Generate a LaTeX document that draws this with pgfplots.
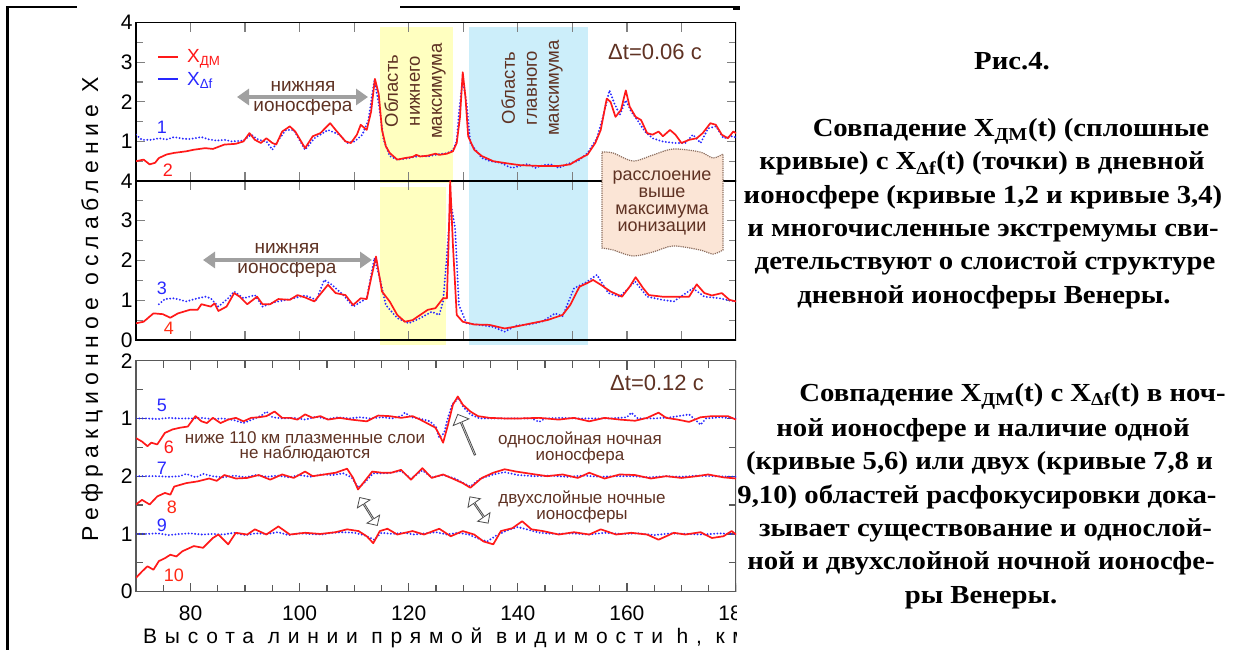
\documentclass[border=0pt]{standalone}
\usepackage{fontspec}
\setmainfont{Liberation Sans}
\newfontfamily\tnr{Liberation Serif}
\newfontfamily\spacedY[LetterSpace=26]{Liberation Sans}
\newfontfamily\spacedX[LetterSpace=37]{Liberation Sans}
\usepackage{pgfplots}
\pgfplotsset{compat=1.18}
\usetikzlibrary{arrows.meta,shapes.arrows}
\definecolor{brn}{RGB}{95,50,35}
\definecolor{myred}{RGB}{255,25,25}
\definecolor{myblue}{RGB}{40,40,255}
\definecolor{yel}{RGB}{255,255,192}
\definecolor{cya}{RGB}{204,238,250}
\definecolor{peach}{RGB}{251,229,214}
\definecolor{boxb}{RGB}{140,110,95}
\definecolor{garr}{RGB}{160,160,160}
\pgfplotsset{
 panel/.style={
  scale only axis, width=600pt, xmin=70, xmax=180, ymin=0, ymax=4,
  anchor=south west, tick align=inside,
  major tick length=9pt, minor tick length=7pt,
  axis line style={line width=1.3pt},
  every tick/.append style={line width=1.2pt},
  every minor tick/.append style={line width=1.2pt},
  ticklabel style={font=\fontsize{21}{21}\selectfont},
  /pgf/number format/assume math mode=true,
 },
 rc/.style={color=myred, line width=1.7pt, line join=round, forget plot},
 bc/.style={color=myblue, line width=2.1pt, dash pattern=on 0pt off 3.3pt, line cap=round, forget plot},
}
\begin{document}
\begin{tikzpicture}[x=1pt,y=1pt]
\useasboundingbox (0,0) rectangle (1243,650);
\fill[white] (0,0) rectangle (1243,650);
\begin{scope}
\clip (0,0) rectangle (736,650);
\fill[yel] (380,467) rectangle (453,623);
\fill[yel] (380,305) rectangle (446,463);
\fill[cya] (469,305) rectangle (588,623);

% ---------- top panel ----------
\begin{axis}[panel, at={(136pt,469pt)}, height=158.3pt,
  xtick={80,90,...,170}, xticklabels={},
  ytick={0,1,2,3,4}, yticklabels={,1,2,3,4}, minor ytick={0.5,1.5,2.5,3.5},
  legend style={draw=none, fill=none, at={(axis cs:73.9,3.38)}, anchor=north west,
    font=\fontsize{19}{19}\selectfont, row sep=4pt, column sep=6pt, inner sep=0pt},
  legend image code/.code={\draw[#1] (0pt,0pt) -- (20pt,0pt);},
  legend cell align=left]
\addlegendimage{color=myred, line width=1.7pt}
\addlegendentry{\textcolor{myred}{X\textsubscript{ДМ}}}
\addlegendimage{color=myblue, line width=1.7pt}
\addlegendentry{\textcolor{myblue}{X\textsubscript{Δf}}}
\addplot[bc] coordinates {(70,1.17) (71.1,1.04) (72.8,1.04) (74.2,1.08) (75.6,1.05) (77.0,1.11) (78.5,1.07) (79.9,1.06) (82.0,1.11) (83.4,1.05) (84.8,1.02) (86.2,1.04) (87.6,1.0) (89.7,1.02) (91.1,1.17) (92.5,1.04) (93.9,1.0) (95.0,0.79) (96.1,1.04) (97.5,1.29) (98.9,1.29) (101.0,0.79) (102.7,1.08) (105.2,1.29) (107.3,1.17) (108.7,0.96) (110.1,1.0) (111.5,1.17) (112.6,1.54) (113.7,2.54) (114.5,1.96) (115.4,1.04) (116.5,0.63) (117.9,0.54) (119.3,0.56) (120.7,0.60) (122.1,0.63) (123.5,0.62) (125.6,0.68) (127.0,0.70) (128.1,0.78) (128.8,1.0) (129.2,1.71) (129.9,2.58) (130.6,1.96) (131.3,0.96) (133.4,0.58) (135.0,0.50) (136.9,0.46) (138.0,0.38) (139.0,0.33) (140.4,0.38) (141.8,0.43) (143.2,0.33) (144.6,0.40) (146.1,0.42) (147.5,0.33) (149.3,0.44) (151.0,0.50) (152.8,0.71) (154.5,1.08) (155.6,1.62) (156.8,2.29) (157.7,1.96) (158.7,1.67) (159.8,2.04) (160.8,1.75) (161.9,1.54) (163.3,1.25) (164.7,1.08) (166.5,1.0) (168.6,0.96) (170.7,0.96) (172.1,1.17) (173.5,0.96) (174.9,1.33) (176.3,1.38) (177.7,1.08) (179.2,1.13) (180,1.10)};
\addplot[rc] coordinates {(70,0.5) (71.4,0.54) (72.5,0.42) (73.5,0.46) (74.2,0.58) (75.6,0.67) (77.0,0.71) (79.2,0.75) (80.6,0.79) (82.7,0.83) (84.1,0.81) (86.2,0.92) (88.3,0.94) (89.7,1.0) (90.8,1.21) (91.8,1.04) (92.9,0.96) (93.9,1.08) (95.0,0.96) (95.7,0.92) (96.8,1.25) (98.2,1.38) (99.2,1.25) (101.0,0.83) (102.4,1.13) (103.8,1.21) (105.6,1.46) (106.6,1.29) (108.4,1.0) (109.4,0.96) (110.5,1.17) (111.2,1.42) (112.3,1.29) (113.1,1.75) (113.8,2.58) (114.5,2.2) (115.1,1.29) (115.8,0.88) (116.5,0.71) (117.9,0.54) (119.3,0.58) (120.7,0.61) (121.4,0.66) (122.1,0.62) (123.5,0.64) (124.9,0.69) (125.6,0.66) (127.0,0.69) (128.1,0.75) (128.8,0.96) (129.4,1.62) (129.9,2.75) (130.4,2.12) (130.9,1.13) (132.0,0.79) (133.4,0.63) (135.5,0.5) (138.3,0.44) (140.4,0.4) (143.9,0.38) (147.5,0.38) (149.6,0.42) (151.0,0.54) (152.8,0.67) (154.2,0.96) (155.2,1.29) (156.3,2.08) (157.0,2.0) (157.9,1.62) (158.9,1.79) (159.8,2.29) (160.5,1.88) (161.6,1.62) (162.6,1.54) (163.7,1.21) (164.7,1.17) (165.8,1.25) (166.6,1.13) (167.9,1.29) (168.9,1.17) (170.0,0.96) (171.4,1.04) (172.8,1.08) (173.9,1.21) (175.3,1.46) (176.3,1.42) (177.4,1.17) (178.5,1.08) (179.5,1.25) (180,1.21)};
\end{axis}

% ---------- middle panel ----------
\begin{axis}[panel, at={(136pt,310pt)}, height=159pt,
  xtick={80,90,...,170}, xticklabels={},
  ytick={0,1,2,3,4}, minor ytick={0.5,1.5,2.5,3.5}]
\addplot[bc] coordinates {(74.2,0.9) (75.3,1.03) (77.0,1.05) (79.2,0.97) (81.3,1.05) (82.7,1.09) (83.7,1.05) (85.1,0.84) (86.9,1.05) (88.0,1.22) (89.7,1.05) (91.8,1.13) (93.2,0.84) (95.4,0.95) (98.2,1.03) (101.0,1.12) (103.1,1.01) (104.5,1.51) (105.9,1.39) (108.0,1.13) (109.8,0.84) (112.3,1.05) (113.7,2.06) (114.7,1.55) (115.8,0.88) (117.9,0.55) (120.0,0.42) (122.1,0.55) (124.2,0.71) (125.6,0.63) (126.3,0.97) (127.0,2.14) (127.7,3.45) (128.5,2.82) (129.2,0.88) (130.6,0.42) (133.0,0.38) (135.5,0.33) (137.6,0.21) (139.7,0.36) (142.5,0.40) (144.6,0.47) (146.8,0.67) (148.2,0.60) (150.3,1.3) (152.5,1.45) (154.5,1.64) (156.6,1.18) (158.7,1.09) (161.5,1.47) (163.7,1.09) (166.5,1.01) (168.6,0.97) (172.1,1.3) (174.2,1.09) (177.0,1.05) (179.2,0.98) (180,0.98)};
\addplot[rc] coordinates {(70,0.42) (71.4,0.46) (73.2,0.67) (74.9,0.65) (76.3,0.56) (77.7,0.67) (79.9,0.76) (81.3,0.76) (82.0,0.9) (83.7,0.84) (84.4,0.92) (85.1,0.73) (86.6,0.84) (88.0,1.18) (89.0,1.09) (90.4,0.9) (92.2,1.09) (93.2,0.9) (94.6,0.9) (96.1,1.03) (98.2,1.01) (99.6,1.13) (101.0,1.07) (102.7,0.97) (105.2,1.39) (106.6,1.18) (108.4,1.13) (109.8,0.88) (111.2,1.05) (112.3,1.03) (113.1,1.55) (114.0,2.1) (115.1,1.22) (116.5,0.97) (117.9,0.63) (119.3,0.46) (120.7,0.5) (122.1,0.63) (123.5,0.76) (124.9,0.8) (126.3,1.05) (127.0,1.05) (127.3,2.4) (127.6,4.0) (128.1,2.4) (128.8,0.63) (129.9,0.46) (132.0,0.39) (134.8,0.38) (137.6,0.29) (139.7,0.34) (142.5,0.42) (145.4,0.5) (148.2,0.63) (149.6,0.88) (151.3,1.34) (152.7,1.43) (153.8,1.51) (155.2,1.39) (157.0,1.22) (159.1,1.09) (160.5,1.34) (161.6,1.58) (163.0,1.3) (164.0,1.13) (166.5,1.09) (169.3,1.09) (171.4,1.09) (172.8,1.4) (174.2,1.18) (175.6,1.12) (177.4,1.18) (178.8,1.01) (180,0.97)};
\end{axis}

% ---------- bottom panel ----------
\begin{axis}[panel, at={(136pt,58.3pt)}, height=231pt,
  axis line style={line width=1.3pt, black!65},
  every tick/.append style={black!65},
  xtick={80,100,...,180}, minor xtick={70,75,...,180},
  xticklabel style={yshift=-11pt},
  ytick={0,1,2,3,4}, yticklabels={0,1,2,1,2}, minor ytick={0.5,1.5,2.5,3.5}]
\addplot[bc] coordinates {(70,3.0) (72,3.0) (74,2.99) (76,3.01) (78,3.0) (80,3.0) (82,3.01) (84,2.99) (86,3.0) (88,2.97) (89.7,2.92) (91,2.97) (93,3.05) (93.9,3.12) (95,3.02) (97,3.0) (99,3.01) (101,2.98) (103,3.03) (105,2.99) (107,3.02) (109,3.0) (111,3.02) (113,3.0) (115,3.02) (117,3.0) (118.6,3.04) (119.3,3.1) (120.5,3.02) (122,3.0) (123.9,2.95) (125,2.85) (125.6,2.66) (126.5,2.75) (127.0,2.95) (128,3.25) (129.2,3.35) (130,3.2) (131.3,3.07) (133,3.0) (136,3.0) (140,3.0) (142.5,3.0) (143.9,2.94) (145,3.0) (148,3.01) (151,3.0) (154,3.0) (157,3.0) (160,3.02) (160.8,3.1) (162,3.0) (165,3.0) (168,3.02) (171.4,3.07) (172.5,2.98) (173.5,2.89) (174.5,3.0) (177,3.02) (180,3.0)};
\addplot[rc] coordinates {(70,2.66) (71.1,2.6) (72.1,2.52) (72.8,2.58) (73.9,2.55) (75.3,2.75) (76.7,2.81) (78.1,2.84) (79.5,2.86) (80.9,3.04) (82.0,2.95) (83.0,2.92) (84.1,3.01) (85.5,2.92) (86.9,2.98) (88.3,3.01) (89.7,2.95) (91.1,3.01) (92.5,3.02) (93.9,3.04) (95.4,3.12) (96.8,3.01) (98.2,3.01) (99.6,2.98) (101.0,3.07) (102.4,3.01) (103.8,3.04) (105.2,2.98) (107.3,3.01) (109.4,2.98) (112.3,2.95) (114.4,3.05) (116.5,3.04) (118.6,3.01) (120.7,3.04) (122.1,2.98) (123.9,2.89) (124.9,2.84) (125.6,2.72) (126.3,2.58) (127.2,2.89) (128.1,3.24) (129.0,3.38) (129.9,3.24) (131.3,3.12) (132.7,3.04) (134.8,3.01) (137.6,3.0) (140.4,3.0) (143.9,3.01) (147.5,2.98) (150.3,3.01) (153.1,2.95) (155.9,3.01) (158.7,2.98) (161.5,2.96) (163.7,3.01) (165.8,3.1) (167.2,3.01) (169.3,2.98) (171.4,2.94) (173.5,3.02) (175.6,3.04) (178.5,3.04) (180,2.98)};
\addplot[bc] coordinates {(70,2.0) (72,2.0) (74,2.0) (76,1.99) (78,2.0) (79.2,2.04) (81,1.98) (82.3,2.04) (84,2.0) (86,1.98) (88,2.01) (90,1.98) (92,2.02) (94,1.99) (96,2.01) (98,1.98) (100,2.02) (102,1.99) (104,2.03) (106,2.02) (108,2.05) (109.5,1.98) (110.8,1.8) (112,1.9) (113.5,2.05) (116,2.05) (118.6,2.09) (120.4,1.96) (122.5,2.1) (124.2,1.98) (126.3,2.02) (128.5,1.96) (130,1.88) (131.3,1.82) (133,1.95) (135.5,2.03) (137.6,2.07) (140,2.02) (143,2.0) (146,2.01) (149,1.99) (152,2.01) (155,1.99) (158,2.0) (161,2.0) (164,1.98) (167,2.0) (170,1.99) (173,2.01) (176,2.0) (180,1.99)};
\addplot[rc] coordinates {(70,1.51) (71.1,1.59) (72.5,1.51) (73.9,1.65) (75.3,1.71) (76.3,1.68) (77.0,1.82) (79.2,1.88) (81.3,1.91) (83.4,1.96) (84.8,1.92) (86.2,2.02) (88.3,1.96) (90.4,1.97) (92.5,2.02) (94.6,1.94) (96.8,2.03) (98.9,1.97) (101.0,2.08) (102.4,2.0) (104.5,2.03) (106.6,2.06) (108.7,2.13) (109.8,1.97) (110.7,1.77) (111.9,1.91) (113.3,2.08) (115.1,2.06) (116.8,2.06) (118.6,2.11) (120.4,1.94) (122.5,2.14) (124.2,1.97) (126.3,2.03) (128.5,1.94) (129.9,1.88) (131.3,1.8) (133.4,1.97) (135.5,2.06) (137.6,2.12) (139.7,2.08) (142.5,2.04) (145.4,2.0) (148.2,2.03) (151.0,1.97) (153.1,2.06) (155.9,1.96) (158.7,2.03) (161.5,2.02) (164.4,1.96) (167.2,2.0) (170.0,1.97) (172.8,2.0) (174.9,2.03) (177.7,1.98) (180,1.96)};
\addplot[bc] coordinates {(70,1.0) (72,1.0) (74,1.01) (76,0.98) (78,1.0) (80,1.01) (82,0.99) (84,1.0) (86,0.99) (88,1.02) (90,0.98) (92,1.01) (94,1.0) (96,1.03) (98,0.98) (100,1.01) (102,1.0) (104,0.99) (106,1.02) (108,1.03) (110,1.02) (111.8,0.98) (113.7,0.9) (115,1.02) (117,1.0) (119,1.02) (121,0.99) (123,1.01) (125,1.03) (127,0.99) (129,1.02) (131,0.99) (133.2,0.9) (134.4,0.87) (136,0.97) (138,1.06) (140,1.12) (142,1.07) (144,1.02) (147,1.0) (150,1.01) (153,0.99) (156,1.02) (159,1.0) (162,1.01) (165,0.98) (168,1.01) (171,1.0) (174,0.99) (177,1.01) (180,1.0)};
\addplot[rc] coordinates {(70,0.24) (71.1,0.35) (72.1,0.44) (73.2,0.38) (74.2,0.53) (75.3,0.58) (76.3,0.64) (77.4,0.61) (78.5,0.7) (80.6,0.79) (82.3,0.76) (84.1,0.93) (85.1,0.99) (86.9,0.82) (88.3,1.02) (90.4,0.99) (91.8,1.08) (93.9,0.99) (96.1,1.13) (98.2,0.99) (101.0,1.02) (103.8,1.0) (106.6,1.03) (108.7,1.08) (110.8,1.05) (112.3,0.96) (113.5,0.84) (114.7,1.05) (116.1,1.09) (117.9,0.99) (120.7,1.05) (122.8,0.99) (125.6,1.09) (127.7,0.96) (129.9,1.05) (132.0,0.99) (133.7,0.87) (135.5,0.82) (136.9,1.05) (139.0,1.1) (140.8,1.22) (142.5,1.08) (144.6,1.05) (147.5,0.99) (150.3,1.03) (153.1,0.99) (155.2,1.08) (158.0,0.99) (160.8,1.02) (163.7,0.99) (165.8,0.9) (168.6,1.02) (170.7,0.99) (173.5,1.03) (175.6,0.93) (177.7,0.96) (179.2,1.05) (180,0.99)};
\end{axis}

% ---------- annotations ----------
\tikzset{ann/.style={brn, align=center, inner sep=0pt}}
\node[ann, rotate=90, font=\fontsize{18.5}{22}\selectfont] at (415,559) {Область\\нижнего\\максимума};
\node[ann, rotate=90, font=\fontsize{18.5}{22}\selectfont] at (532,562) {Область\\главного\\максимума};
\node[ann, font=\fontsize{22}{22}\selectfont] at (655,598) {Δt=0.06 c};
\node[ann, font=\fontsize{19}{20}\selectfont] at (303,552) {нижняя\\ионосфера};
\draw[garr, line width=4.5pt, {Triangle[width=16pt,length=12pt]}-{Triangle[width=16pt,length=12pt]}] (237,553) -- (368,553);
\node[ann, font=\fontsize{19}{20}\selectfont] at (287,390) {нижняя\\ионосфера};
\draw[garr, line width=4.5pt, {Triangle[width=16pt,length=12pt]}-{Triangle[width=16pt,length=12pt]}] (203,390) -- (372,390);
\filldraw[fill=peach, draw=boxb, line width=1.2pt, densely dotted]
  plot[smooth] coordinates {(602,498) (613,497) (633,489) (653,495) (673,501) (700,498) (713,492) (723,496)}
  -- plot[smooth] coordinates {(723,400) (713,396) (700,400) (673,404) (653,398) (633,394) (613,400) (602,402)} -- cycle;
\node[ann, font=\fontsize{18}{16.8}\selectfont] at (662,447) {расслоение\\выше\\максимума\\ионизации};
\node[ann, font=\fontsize{22}{22}\selectfont] at (657,267) {Δt=0.12 c};
\node[ann, font=\fontsize{17}{15}\selectfont] at (305,203) {ниже 110 км плазменные слои\\не наблюдаются};
\node[ann, font=\fontsize{17}{15}\selectfont] at (580,202) {однослойная ночная\\ионосфера};
\node[ann, font=\fontsize{17}{15}\selectfont] at (582,143) {двухслойные ночные\\ионосферы};
\node[single arrow, draw=black!70, fill=white, line width=0.8pt, minimum width=17pt, single arrow head extend=4pt, minimum height=44pt, inner sep=0pt, rotate=113] at (466.5,215) {};
\node[double arrow, draw=black!70, fill=white, line width=0.8pt, minimum width=15pt, double arrow head extend=3.5pt, minimum height=33pt, inner sep=0pt, rotate=-57.8] at (368.5,138.5) {};
\node[double arrow, draw=black!70, fill=white, line width=0.8pt, minimum width=15pt, double arrow head extend=3.5pt, minimum height=32pt, inner sep=0pt, rotate=-55.3] at (479,140) {};
\tikzset{num/.style={font=\fontsize{18}{18}\selectfont, inner sep=0pt}}
\node[num, myblue] at (162,523) {1};
\node[num, myred] at (168,480) {2};
\node[num, myblue] at (162,362) {3};
\node[num, myred!80!orange] at (169,322) {4};
\node[num, myblue] at (162,245) {5};
\node[num, myred] at (169,203) {6};
\node[num, myblue] at (162,182) {7};
\node[num, myred!85!orange] at (172,143) {8};
\node[num, myblue] at (162,125) {9};
\node[num, myred!85!orange] at (174,75) {10};
% axis titles
\node[rotate=90, font=\spacedY\fontsize{23}{23}\selectfont, inner sep=0pt] at (92,341) {Рефракционное ослабление X};
\node[anchor=west, font=\spacedX\fontsize{21}{21}\selectfont, inner sep=0pt] at (143,12) {Высота линии прямой видимости h, км};
% frame
\draw[line width=3pt] (7,0) -- (7,643);
\draw[line width=1.5pt] (6,643) -- (77,643);
\draw[line width=1.5pt] (400,643) -- (736,643);
\end{scope}
\fill[black] (733,640) rectangle (740,643.5);

% ---------- right text ----------
\begin{scope}
\clip (736,0) rectangle (1243,650);
\tikzset{rt/.style={font=\tnr\bfseries\fontsize{26}{26}\selectfont, inner sep=0pt, anchor=base}}
\newcommand\rl[1]{\scalebox{1.105}[1]{#1}}
\node[rt] at (1012,580) {\rl{Рис.4.}};
\node[rt] at (1011,513.3) {\rl{Совпадение X\textsubscript{ДМ}(t) (сплошные}};
\node[rt] at (982,480) {\rl{кривые) с X\textsubscript{Δf}(t) (точки) в дневной}};
\node[rt] at (983,446.7) {\rl{ионосфере (кривые 1,2 и кривые 3,4)}};
\node[rt] at (983,413.3) {\rl{и многочисленные экстремумы сви-}};
\node[rt] at (985,380) {\rl{детельствуют о слоистой структуре}};
\node[rt] at (984,346.7) {\rl{дневной ионосферы Венеры.}};
\node[rt] at (1012.5,248.3) {\rl{Совпадение X\textsubscript{ДМ}(t) с X\textsubscript{Δf}(t) в ноч-}};
\node[rt] at (983,213.3) {\rl{ной ионосфере и наличие одной}};
\node[rt] at (979.5,180) {\rl{(кривые 5,6) или двух (кривые 7,8 и}};
\node[rt] at (977,146.7) {\rl{9,10) областей расфокусировки дока-}};
\node[rt] at (985.5,113.3) {\rl{зывает существование и однослой-}};
\node[rt] at (981,80) {\rl{ной и двухслойной ночной ионосфе-}};
\node[rt] at (981,46.7) {\rl{ры Венеры.}};
\end{scope}
\end{tikzpicture}
\end{document}
